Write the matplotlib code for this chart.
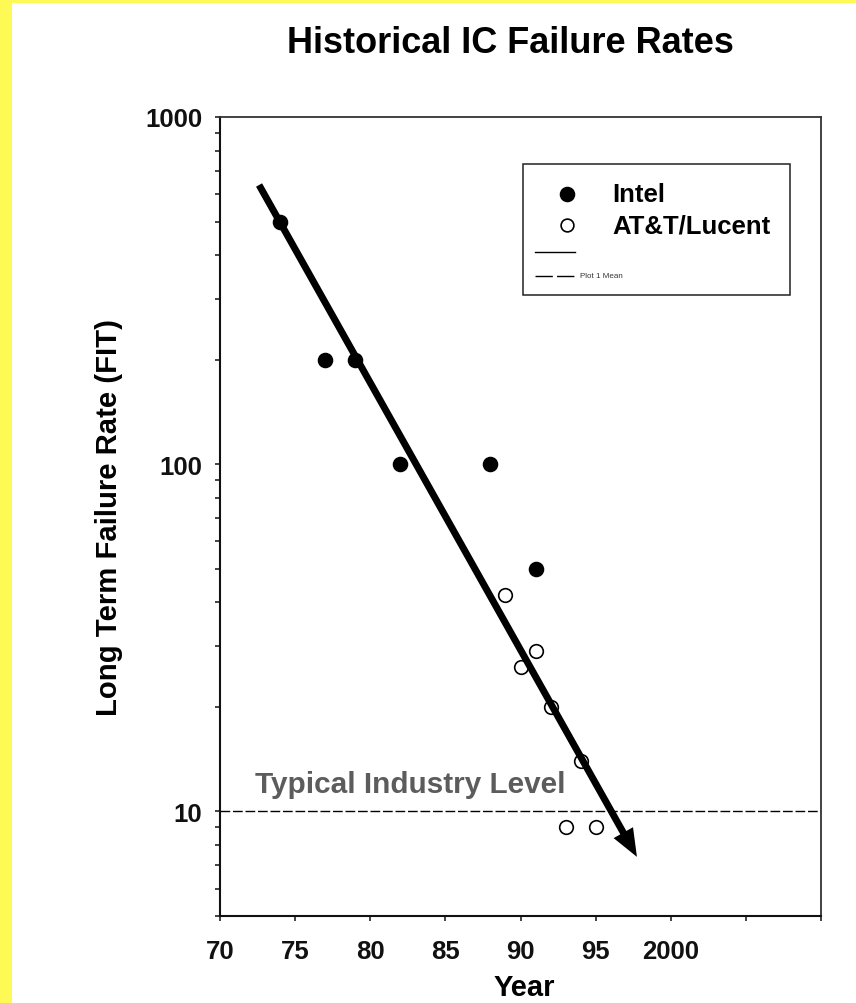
import matplotlib
matplotlib.use("Agg")
import matplotlib.pyplot as plt
import matplotlib.ticker as mticker
from matplotlib.patches import Rectangle, FancyArrowPatch
from matplotlib.lines import Line2D

# ---- data ----
intel_years = [1974, 1977, 1979, 1982, 1988, 1991]
intel_fit = [500, 200, 200, 100, 100, 50]

att_years = [1989, 1990, 1991, 1992, 1993, 1994, 1995]
att_fit = [42, 26, 29, 20, 9, 14, 9]

industry_level = 10

# trend arrow end points (year, FIT)
trend_start = (1972.6, 637)
trend_end = (1997.75, 7.4)

x_ticks = [1970, 1975, 1980, 1985, 1990, 1995, 2000, 2005, 2010]
x_tick_labels = ["70", "75", "80", "85", "90", "95", "2000", "", ""]
y_ticks = [10, 100, 1000]
y_tick_labels = ["10", "100", "1000"]

# ---- figure setup ----
W, H, DPI = 856, 1004, 100
plt.rcParams["font.family"] = ["Liberation Sans", "DejaVu Sans"]
plt.rcParams["font.weight"] = "bold"

fig = plt.figure(figsize=(W / DPI, H / DPI), dpi=DPI)
fig.patch.set_facecolor("white")


def fx(px):
    return px / W


def fy(py):
    return 1 - py / H


yellow = "#fff955"
fig.add_artist(Rectangle((0, 0), fx(12), 1, transform=fig.transFigure,
                         color=yellow, lw=0, zorder=0))
fig.add_artist(Rectangle((0, fy(4)), 1, 4 / H, transform=fig.transFigure,
                         color=yellow, lw=0, zorder=0))

ax = fig.add_axes([fx(220), fy(917), (821 - 220) / W, (917 - 118) / H])
ax.set_yscale("log")
ax.set_xlim(1970, 2010)
ax.set_ylim(5, 1000)

# spines
for side in ("left", "bottom"):
    ax.spines[side].set_linewidth(1.5)
    ax.spines[side].set_color("#111111")
for side in ("top", "right"):
    ax.spines[side].set_linewidth(1.3)
    ax.spines[side].set_color("#333333")

# ticks
ax.xaxis.set_major_locator(mticker.FixedLocator(x_ticks))
ax.xaxis.set_major_formatter(mticker.FixedFormatter(x_tick_labels))
ax.yaxis.set_major_locator(mticker.FixedLocator(y_ticks))
ax.yaxis.set_major_formatter(mticker.FixedFormatter(y_tick_labels))
ax.yaxis.set_minor_locator(mticker.LogLocator(base=10, subs=range(2, 10)))
ax.yaxis.set_minor_formatter(mticker.NullFormatter())
ax.tick_params(axis="both", which="both", direction="out", length=3.6,
               width=1.1, color="#111111", top=False, right=False)
ax.tick_params(axis="x", which="major", labelsize=18.5, pad=13.0)
ax.tick_params(axis="y", which="major", labelsize=18.5, pad=9.0)
for lab in ax.get_xticklabels() + ax.get_yticklabels():
    lab.set_fontweight("bold")
    lab.set_color("#111111")

# industry level reference line
ax.axhline(industry_level, color="black", lw=1.0, dashes=(7, 2), zorder=2)
ax.text(1972.3, 11.4, "Typical Industry Level", fontsize=21.4,
        fontweight="bold", color="#5c5c5c", va="baseline", ha="left")

# data points
ax.plot(intel_years, intel_fit, linestyle="none", marker="o",
        markersize=10.2, markerfacecolor="black", markeredgecolor="black",
        zorder=3)
ax.plot(att_years, att_fit, linestyle="none", marker="o",
        markersize=9.8, markerfacecolor="white", markeredgecolor="black",
        markeredgewidth=1.2, zorder=3)

# trend arrow
arrow = FancyArrowPatch(posA=trend_start, posB=trend_end,
                        arrowstyle="simple,head_length=20,head_width=16,tail_width=5",
                        mutation_scale=1, color="black", lw=0,
                        shrinkA=0, shrinkB=0, zorder=4)
ax.add_patch(arrow)

# axis labels and title
ax.set_xlabel("Year", fontsize=21, fontweight="bold")
ax.xaxis.set_label_coords(0.507, -(996 - 917) / (917 - 118))
ax.xaxis.label.set_va("baseline")

fig.text(fx(109), fy(517), "Long Term Failure Rate (FIT)", rotation=90,
         fontsize=21.1, fontweight="bold", ha="center", va="center")

fig.text(fx(510), fy(53), "Historical IC Failure Rates", fontsize=26,
         fontweight="bold", ha="center", va="baseline")

# legend box
fig.add_artist(Rectangle((fx(523), fy(296)), (790 - 523) / W, (296 - 165) / H,
                         transform=fig.transFigure, fill=False, lw=1.1,
                         ec="#222222", zorder=5))
fig.add_artist(Line2D([fx(567)], [fy(195)], transform=fig.transFigure,
                      marker="o", markersize=10.2, markerfacecolor="black",
                      markeredgecolor="black", linestyle="none", zorder=6))
fig.add_artist(Line2D([fx(567)], [fy(226)], transform=fig.transFigure,
                      marker="o", markersize=9.2, markerfacecolor="white",
                      markeredgecolor="black", markeredgewidth=1.2,
                      linestyle="none", zorder=6))
fig.add_artist(Line2D([fx(535), fx(575)], [fy(253), fy(253)],
                      transform=fig.transFigure, color="black", lw=1.0,
                      zorder=6))
fig.add_artist(Line2D([fx(535), fx(575)], [fy(277), fy(277)],
                      transform=fig.transFigure, color="black", lw=1.0,
                      dashes=(12.5, 3), zorder=6))
fig.text(fx(612), fy(195), "Intel", fontsize=18.5, fontweight="bold",
         ha="left", va="center", zorder=6)
fig.text(fx(612), fy(226), "AT&T/Lucent", fontsize=18.5, fontweight="bold",
         ha="left", va="center", zorder=6)
fig.text(fx(580), fy(277), "Plot 1 Mean", fontsize=5.8, fontweight="normal",
         color="#333333", ha="left", va="center", zorder=6)

fig.savefig("out.png", dpi=DPI)
